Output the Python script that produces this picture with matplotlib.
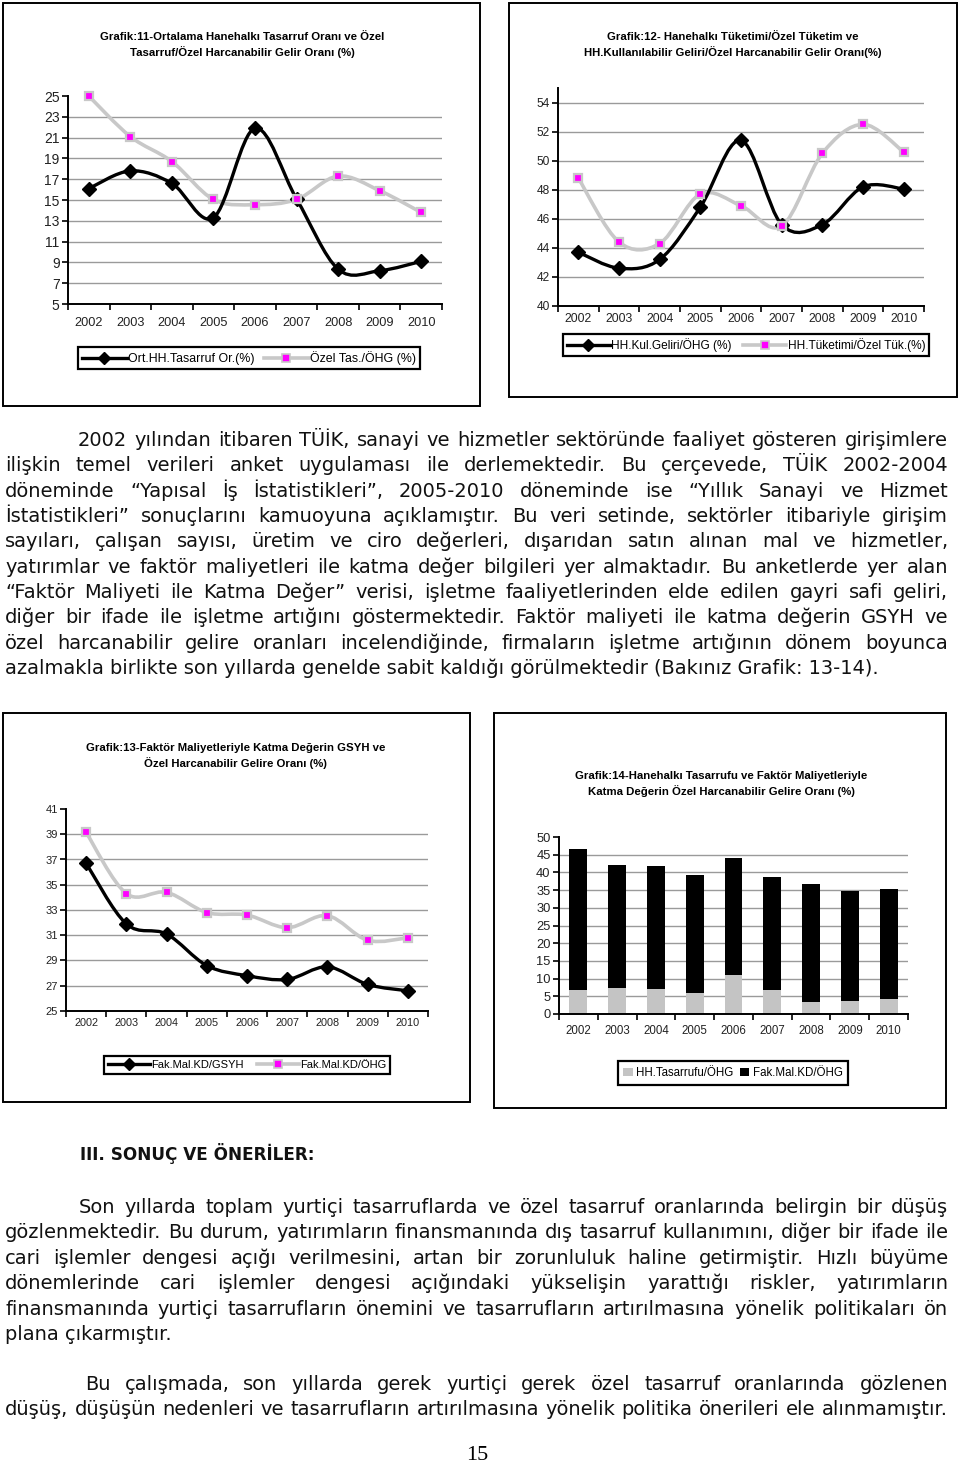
import matplotlib
matplotlib.use("Agg")
import matplotlib.pyplot as plt
from matplotlib.path import Path
from matplotlib.patches import PathPatch, Rectangle
from matplotlib.lines import Line2D

# ---- veriler ----
years = ["2002", "2003", "2004", "2005", "2006", "2007", "2008", "2009", "2010"]

# Grafik 11
ort_hh_tasarruf = [16.1, 17.8, 16.6, 13.3, 21.9, 15.1, 8.35, 8.2, 9.1]
ozel_tas_ohg = [25.0, 21.1, 18.7, 15.05, 14.55, 15.05, 17.3, 15.9, 13.8]

# Grafik 12
hh_kul_geliri = [43.7, 42.6, 43.2, 46.8, 51.4, 45.6, 45.6, 48.2, 48.05]
hh_tuketimi = [48.8, 44.4, 44.3, 47.7, 46.9, 45.5, 50.5, 52.5, 50.6]

# Grafik 13
fak_mal_gsyh = [36.7, 31.9, 31.1, 28.6, 27.8, 27.5, 28.5, 27.1, 26.6]
fak_mal_ohg = [39.15, 34.3, 34.4, 32.8, 32.6, 31.6, 32.55, 30.6, 30.8]

# Grafik 14 (yigilmis cubuklar)
hh_tasarrufu_ohg = [6.8, 7.3, 7.0, 5.9, 11.0, 6.7, 3.5, 3.7, 4.1]
fak_mal_kd_ohg = [39.7, 34.9, 34.8, 33.5, 33.2, 32.1, 33.1, 31.1, 31.3]

par1 = [
    "2002 yılından itibaren TÜİK, sanayi ve hizmetler sektöründe faaliyet gösteren girişimlere",
    "ilişkin temel verileri anket uygulaması ile derlemektedir. Bu çerçevede, TÜİK 2002-2004",
    "döneminde “Yapısal İş İstatistikleri”, 2005-2010 döneminde ise “Yıllık Sanayi ve Hizmet",
    "İstatistikleri” sonuçlarını kamuoyuna açıklamıştır. Bu veri setinde, sektörler itibariyle girişim",
    "sayıları, çalışan sayısı, üretim ve ciro değerleri, dışarıdan satın alınan mal ve hizmetler,",
    "yatırımlar ve faktör maliyetleri ile katma değer bilgileri yer almaktadır. Bu anketlerde yer alan",
    "“Faktör Maliyeti ile Katma Değer” verisi, işletme faaliyetlerinden elde edilen gayri safi geliri,",
    "diğer bir ifade ile işletme artığını göstermektedir. Faktör maliyeti ile katma değerin GSYH ve",
    "özel harcanabilir gelire oranları incelendiğinde, firmaların işletme artığının dönem boyunca",
    "azalmakla birlikte son yıllarda genelde sabit kaldığı görülmektedir (Bakınız Grafik: 13-14).",
]
par2 = [
    "Son yıllarda toplam yurtiçi tasarruflarda ve özel tasarruf oranlarında belirgin bir düşüş",
    "gözlenmektedir. Bu durum, yatırımların finansmanında dış tasarruf kullanımını, diğer bir ifade ile",
    "cari işlemler dengesi açığı verilmesini, artan bir zorunluluk haline getirmiştir. Hızlı büyüme",
    "dönemlerinde cari işlemler dengesi açığındaki yükselişin yarattığı riskler, yatırımların",
    "finansmanında yurtiçi tasarrufların önemini ve tasarrufların artırılmasına yönelik politikaları ön",
    "plana çıkarmıştır.",
]
par3 = [
    "Bu çalışmada, son yıllarda gerek yurtiçi gerek özel tasarruf oranlarında gözlenen",
    "düşüş, düşüşün nedenleri ve tasarrufların artırılmasına yönelik politika önerileri ele alınmamıştır.",
]

W, H = 960, 1464
CF = "Liberation Sans"
BF = "DejaVu Sans"
GRAY = "#c8c8c8"
PINK = "#ff00ff"

fig = plt.figure(figsize=(9.6, 14.64), dpi=100)
fig.patch.set_facecolor("white")
rend = fig.canvas.get_renderer()


def box(x0, y0, x1, y1):
    return [x0 / W, 1 - y1 / H, (x1 - x0) / W, (y1 - y0) / H]


def frame(x0, y0, x1, y1):
    fig.add_artist(Rectangle((x0 / W, 1 - y1 / H), (x1 - x0) / W, (y1 - y0) / H,
                             transform=fig.transFigure, fill=False, ec="black", lw=1.4))


def title(cx, cy, s):
    fig.text(cx / W, 1 - cy / H, s, ha="center", va="center", fontsize=8.2,
             fontweight="bold", family=CF, linespacing=1.45)


def setup(ax, lo, hi, step, ysize, xsize, xpad):
    n = len(years)
    ax.set_xlim(-0.5, n - 0.5)
    ax.set_ylim(lo, hi)
    ticks = list(range(lo, hi + 1, step))
    ax.set_yticks(ticks)
    for t in ticks:
        if lo < t < hi:
            ax.axhline(t, color="#9a9a9a", lw=1.0, zorder=0)
    ax.set_xticks(range(n))
    ax.set_xticklabels(years, fontsize=xsize, family=CF, color="#222222")
    ax.set_xticks([i - 0.5 for i in range(n + 1)], minor=True)
    ax.tick_params(axis="x", which="major", length=0, pad=xpad)
    ax.tick_params(axis="x", which="minor", length=4, width=1.2, direction="out")
    ax.tick_params(axis="y", length=4, width=1.2, direction="out", pad=2,
                   labelsize=ysize, labelcolor="#222222")
    for lab in ax.get_yticklabels():
        lab.set_family(CF)
    for s in ["top", "right"]:
        ax.spines[s].set_visible(False)
    for s in ["left", "bottom"]:
        ax.spines[s].set_linewidth(1.4)
    ax.set_facecolor("none")


def smooth(ax, ys, **kw):
    pts = list(zip(range(len(ys)), ys))
    n = len(pts)
    verts = [pts[0]]
    codes = [Path.MOVETO]
    for i in range(n - 1):
        p0 = pts[max(i - 1, 0)]
        p1 = pts[i]
        p2 = pts[i + 1]
        p3 = pts[min(i + 2, n - 1)]
        c1 = (p1[0] + (p2[0] - p0[0]) / 6, p1[1] + (p2[1] - p0[1]) / 6)
        c2 = (p2[0] - (p3[0] - p1[0]) / 6, p2[1] - (p3[1] - p1[1]) / 6)
        verts += [c1, c2, p2]
        codes += [Path.CURVE4] * 3
    ax.add_patch(PathPatch(Path(verts, codes), fill=False, capstyle="round",
                           joinstyle="round", clip_on=False, **kw))


def line_chart(ax, black, gray):
    x = range(len(years))
    smooth(ax, gray, ec=GRAY, lw=2.6, zorder=2)
    smooth(ax, black, ec="black", lw=2.4, zorder=3)
    ax.plot(x, black, ls="none", marker="D", ms=7, color="black", zorder=4, clip_on=False)
    ax.plot(x, gray, ls="none", marker="s", ms=6.3, mfc=PINK, mec=GRAY, mew=1.6, zorder=5,
            clip_on=False)


def legend_lines(cx, cy, labels, size, hl, cs):
    h1 = Line2D([], [], color="black", lw=2.4, marker="D", ms=6)
    h2 = Line2D([], [], color=GRAY, lw=2.6, marker="s", ms=5.5, mfc=PINK, mec=GRAY, mew=1.2)
    leg = fig.legend([h1, h2], labels, loc="center", bbox_to_anchor=(cx / W, 1 - cy / H),
                     ncol=2, fancybox=False, edgecolor="black", framealpha=1,
                     prop={"family": CF, "size": size}, handlelength=hl,
                     handletextpad=0.1, columnspacing=cs, borderpad=0.35, borderaxespad=0)
    leg.get_frame().set_linewidth(1.6)


# ---- Grafik 11 ----
frame(3, 3, 480, 406)
title(242, 45, "Grafik:11-Ortalama Hanehalkı Tasarruf Oranı ve Özel\nTasarruf/Özel Harcanabilir Gelir Oranı (%)")
ax1 = fig.add_axes(box(68, 96, 442, 304))
setup(ax1, 5, 25, 2, 10, 9.2, 9)
line_chart(ax1, ort_hh_tasarruf, ozel_tas_ohg)
legend_lines(249, 358, ["Ort.HH.Tasarruf Or.(%)", "Özel Tas./ÖHG (%)"], 8.9, 3.6, 0.8)

# ---- Grafik 12 ----
frame(509, 3, 957, 397)
title(733, 45, "Grafik:12- Hanehalkı Tüketimi/Özel Tüketim ve\nHH.Kullanılabilir Geliri/Özel Harcanabilir Gelir Oranı(%)")
ax2 = fig.add_axes(box(558, 88, 924, 306))
setup(ax2, 40, 55, 2, 8.6, 8.8, 5)
line_chart(ax2, hh_kul_geliri, hh_tuketimi)
legend_lines(746, 345, ["HH.Kul.Geliri/ÖHG (%)", "HH.Tüketimi/Özel Tük.(%)"], 8.6, 3.6, 1.0)

# ---- Grafik 13 ----
frame(3, 713, 470, 1102)
title(236, 756, "Grafik:13-Faktör Maliyetleriyle Katma Değerin GSYH ve\nÖzel Harcanabilir Gelire Oranı (%)")
ax3 = fig.add_axes(box(66, 809, 428, 1011))
setup(ax3, 25, 41, 2, 8, 7.8, 5)
line_chart(ax3, fak_mal_gsyh, fak_mal_ohg)
legend_lines(247, 1065, ["Fak.Mal.KD/GSYH", "Fak.Mal.KD/ÖHG"], 8.0, 3.8, 1.2)

# ---- Grafik 14 ----
frame(494, 713, 946, 1108)
title(721, 784, "Grafik:14-Hanehalkı Tasarrufu ve Faktör Maliyetleriyle\nKatma Değerin Özel Harcanabilir Gelire Oranı (%)")
ax4 = fig.add_axes(box(559, 837, 908, 1014))
setup(ax4, 0, 50, 5, 9.3, 8.3, 8)
xb = range(len(years))
ax4.bar(xb, hh_tasarrufu_ohg, width=0.46, color="#c4c4c4", zorder=2, label="HH.Tasarrufu/ÖHG")
ax4.bar(xb, fak_mal_kd_ohg, width=0.46, bottom=hh_tasarrufu_ohg, color="black", zorder=2,
        label="Fak.Mal.KD/ÖHG")
h, l = ax4.get_legend_handles_labels()
leg4 = fig.legend(h, l, loc="center", bbox_to_anchor=(733 / W, 1 - 1073 / H), ncol=2,
                  fancybox=False, edgecolor="black", framealpha=1,
                  prop={"family": CF, "size": 8.3}, handlelength=0.8, handleheight=0.8,
                  handletextpad=0.3, columnspacing=0.6, borderpad=0.5, borderaxespad=0)
leg4.get_frame().set_linewidth(1.6)


# ---- metin ----
def text_line(s, x0, x1, base, size, justify=True, weight="normal", family=BF):
    y = 1 - base / H
    if not justify:
        fig.text(x0 / W, y, s, fontsize=size, fontweight=weight, family=family,
                 va="baseline", color="#111111")
        return
    words = s.split(" ")
    objs = [fig.text(0, y, w, fontsize=size, fontweight=weight, family=family,
                     va="baseline", color="#111111") for w in words]
    widths = [o.get_window_extent(rend).width for o in objs]
    gap = (x1 - x0 - sum(widths)) / (len(words) - 1)
    x = x0
    for o, w in zip(objs, widths):
        o.set_x(x / W)
        x += w + gap


probe = fig.text(0, 0, par3[1], fontsize=12, family=BF)
fs = 12 * 936 / probe.get_window_extent(rend).width
probe.remove()

L, R = 5, 948
for i, s in enumerate(par1):
    x0 = 78 if i == 0 else L
    text_line(s, x0, R, 446 + 25.35 * i, fs, justify=(i < len(par1) - 1))

text_line("III. SONUÇ VE ÖNERİLER:", 80, R, 1160, fs * 0.87, justify=False, weight="bold")

for i, s in enumerate(par2):
    x0 = 79 if i == 0 else L
    text_line(s, x0, R, 1213 + 25.4 * i, fs, justify=(i < len(par2) - 1))

for i, s in enumerate(par3):
    x0 = 85 if i == 0 else L
    text_line(s, x0, R, 1390 + 25.2 * i, fs)

fig.text(477 / W, 1 - 1460 / H, "15", ha="center", va="baseline", fontsize=16,
         family="Liberation Serif")

fig.savefig("out.png", dpi=100)
